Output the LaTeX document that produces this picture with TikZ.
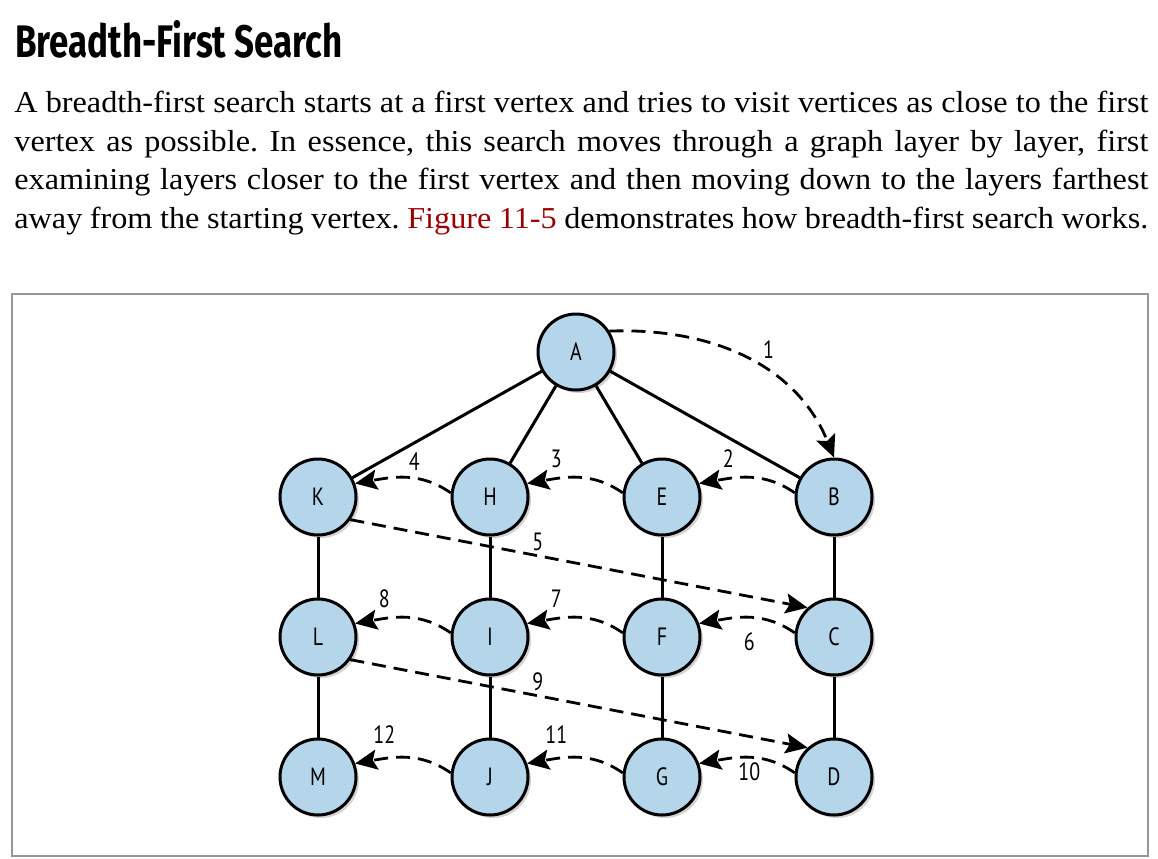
\documentclass[tikz,border=0pt]{standalone}
\usepackage{fontspec}
\setmainfont{Liberation Serif}[FakeStretch=1.06]
\newfontfamily\headfont[FakeStretch=0.72]{Fira Sans}
\newfontfamily\labelfont[FakeStretch=0.8]{PT Sans}
\usepackage{xcolor}
\usetikzlibrary{arrows.meta, positioning, shadows}
\definecolor{vtxblue}{RGB}{181,213,235}
\definecolor{figred}{RGB}{153,0,0}
\definecolor{framegray}{RGB}{150,150,150}
\frenchspacing

\begin{document}
\begin{tikzpicture}[
  x=0.5pt, y=-0.5pt,
  node distance=70pt and 86pt, on grid,
  vtx/.style={circle, draw, line width=1.5pt, fill=vtxblue, minimum size=38pt,
              inner sep=0pt, font=\labelfont\fontsize{12.5}{12.5}\selectfont,
              drop shadow={shadow xshift=1.5pt, shadow yshift=-1.5pt, opacity=0.35}},
  edge/.style={line width=1.5pt},
  visit/.style={line width=1.4pt, dash pattern=on 7pt off 4pt,
                -{Stealth[length=11pt, width=10pt, inset=2pt]}},
  num/.style={font=\labelfont\fontsize{12.5}{12.5}\selectfont, inner sep=1pt},
  bodyline/.style={anchor=base west, inner sep=0pt, font=\fontsize{15.2}{18}\selectfont},
]
\useasboundingbox (0,0) rectangle (1158,858);

%% --- Heading and text ---
\node[anchor=base west, inner sep=0pt] (title) at (15,57)
  {\resizebox{163.5pt}{18.5pt}{\headfont\bfseries Breadth-First Search}};
\node[bodyline] (line1) at (14,112) {\makebox[567pt][s]{A breadth-first search starts at a first vertex and tries to visit vertices as close to the first}};
\node[bodyline] (line2) at (14,151) {\makebox[567pt][s]{vertex as possible. In essence, this search moves through a graph layer by layer, first}};
\node[bodyline] (line3) at (14,189.5) {\makebox[567pt][s]{examining layers closer to the first vertex and then moving down to the layers farthest}};
\node[bodyline] (line4) at (14,228) {\makebox[567pt][s]{away from the starting vertex. \textcolor{figred}{Figure 11-5} demonstrates how breadth-first search works.}};

%% --- Figure frame ---
\draw[framegray, line width=0.6pt] (12,294) rectangle (1148,856);

%% --- Vertices ---
\node[vtx] (A) at (576,352) {A};
\node[vtx] (K) at (318,497) {K};
\node[vtx, right=of K] (H) {H};
\node[vtx, right=of H] (E) {E};
\node[vtx, right=of E] (B) {B};
\node[vtx, below=of K] (L) {L};
\node[vtx, below=of H] (I) {I};
\node[vtx, below=of E] (F) {F};
\node[vtx, below=of B] (C) {C};
\node[vtx, below=of L] (M) {M};
\node[vtx, below=of I] (J) {J};
\node[vtx, below=of F] (G) {G};
\node[vtx, below=of C] (D) {D};

%% --- Graph edges ---
\draw[edge] (A) -- (K);
\draw[edge] (A) -- (H);
\draw[edge] (A) -- (E);
\draw[edge] (A) -- (B);
\draw[edge] (K) -- (L) -- (M);
\draw[edge] (H) -- (I) -- (J);
\draw[edge] (E) -- (F) -- (G);
\draw[edge] (B) -- (C) -- (D);

%% --- Visiting order ---
\draw[visit] (A.32) to[out=2, in=112] node[num, pos=0.55, above right=2pt] {1} (B.north);
\draw[visit] (B.174) to[out=145, in=10] node[num, pos=0.72, above=4pt] {2} (E.20);
\draw[visit] (E.174) to[out=145, in=10] node[num, pos=0.72, above=4pt] {3} (H.20);
\draw[visit] (H.174) to[out=145, in=10] node[num, pos=0.4, above=2pt] {4} (K.20);
\draw[visit] (K.-35) -- node[num, pos=0.41, above=1pt] {5} (C.132);
\draw[visit] (C.174) to[out=145, in=10] node[num, pos=0.5, below=6pt] {6} (F.20);
\draw[visit] (F.174) to[out=145, in=10] node[num, pos=0.72, above=4pt] {7} (I.20);
\draw[visit] (I.174) to[out=145, in=10] node[num, pos=0.72, above=4pt] {8} (L.20);
\draw[visit] (L.-35) -- node[num, pos=0.41, above=1pt] {9} (D.132);
\draw[visit] (D.174) to[out=145, in=10] node[num, pos=0.5, below=1pt] {10} (G.20);
\draw[visit] (G.174) to[out=145, in=10] node[num, pos=0.72, above=6pt] {11} (J.20);
\draw[visit] (J.174) to[out=145, in=10] node[num, pos=0.72, above=6pt] {12} (M.20);

\end{tikzpicture}
\end{document}
